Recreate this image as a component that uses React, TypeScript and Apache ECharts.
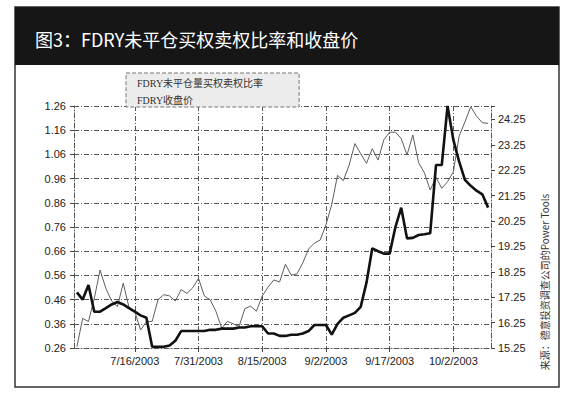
import React, { useEffect, useRef } from "react";
import * as echarts from "echarts";

const dates = [
  "7/1/2003", "7/2/2003", "7/3/2003", "7/7/2003", "7/8/2003", "7/9/2003", "7/10/2003", "7/11/2003", "7/14/2003", "7/15/2003",
  "7/16/2003", "7/17/2003", "7/18/2003", "7/21/2003", "7/22/2003", "7/23/2003", "7/24/2003", "7/25/2003", "7/28/2003", "7/29/2003", "7/30/2003",
  "7/31/2003", "8/1/2003", "8/4/2003", "8/5/2003", "8/6/2003", "8/7/2003", "8/8/2003", "8/11/2003", "8/12/2003", "8/13/2003", "8/14/2003",
  "8/15/2003", "8/18/2003", "8/19/2003", "8/20/2003", "8/21/2003", "8/22/2003", "8/25/2003", "8/26/2003", "8/27/2003", "8/28/2003", "8/29/2003",
  "9/2/2003", "9/3/2003", "9/4/2003", "9/5/2003", "9/8/2003", "9/9/2003", "9/10/2003", "9/11/2003", "9/12/2003", "9/15/2003", "9/16/2003",
  "9/17/2003", "9/18/2003", "9/19/2003", "9/22/2003", "9/23/2003", "9/24/2003", "9/25/2003", "9/26/2003", "9/29/2003", "9/30/2003", "10/1/2003",
  "10/2/2003", "10/3/2003", "10/6/2003", "10/7/2003", "10/8/2003", "10/9/2003", "10/10/2003",
];

const putCallRatio = [
  0.49, 0.46, 0.52, 0.41, 0.41, 0.425, 0.44, 0.45, 0.44, 0.425,
  0.41, 0.395, 0.385, 0.265, 0.265, 0.265, 0.27, 0.29, 0.33, 0.33, 0.33,
  0.33, 0.33, 0.335, 0.335, 0.34, 0.34, 0.34, 0.345, 0.345, 0.35, 0.35,
  0.35, 0.32, 0.32, 0.31, 0.31, 0.315, 0.315, 0.32, 0.33, 0.355, 0.355,
  0.355, 0.315, 0.36, 0.385, 0.395, 0.405, 0.43, 0.53, 0.672, 0.66, 0.65,
  0.65, 0.76, 0.84, 0.713, 0.715, 0.727, 0.73, 0.734, 1.016, 1.016, 1.26,
  1.12, 1.03, 0.955, 0.93, 0.91, 0.895, 0.84,
];

const closePrice = [
  15.3, 16.42, 16.29, 17.2, 18.32, 17.6, 17.1, 16.88, 17.8, 16.85,
  16.68, 15.96, 16.29, 16.3, 17.15, 17.35, 17.3, 17.1, 17.55, 17.4, 17.62,
  17.99, 17.3, 17.15, 16.7, 16.03, 16.3, 16.2, 16.1, 16.8, 16.9, 16.7,
  17.3, 17.65, 17.93, 17.85, 18.55, 18.12, 18.17, 18.6, 19.15, 19.38, 19.5,
  20.1, 20.9, 22.05, 21.84, 22.45, 23.3, 22.9, 22.52, 23.1, 22.65, 23.45,
  23.75, 23.75, 23.5, 22.85, 23.64, 22.55, 22.15, 21.47, 21.97, 21.54, 21.8,
  22.19, 23.6, 24.15, 24.75, 24.38, 24.12, 24.1,
];

const leftTickLabels = ["0.26", "0.36", "0.46", "0.56", "0.66", "0.76", "0.86", "0.96", "1.06", "1.16", "1.26"];
const rightTickLabels = ["15.25", "16.25", "17.25", "18.25", "19.25", "20.25", "21.25", "22.25", "23.25", "24.25"];

const RATIO_BASE = 0.26;
const PRICE_BASE = 15.25;
const PRICE_SPAN = 9.53;

const seriesNames = ["FDRY未平仓量买权卖权比率", "FDRY收盘价"];
const titleText = "图3：FDRY未平仓买权卖权比率和收盘价";
const sourceText = "来源：德意投资调查公司的Power Tools";

export default function App() {
  const ref = useRef<HTMLDivElement>(null);

  useEffect(() => {
    document.body.style.margin = "0";
    const chart = echarts.init(ref.current!, null, { renderer: "svg" });
    const gridDash = [5, 2, 1, 2];
    const labelFont = {
      fontFamily: "'Liberation Sans', Arial, sans-serif",
      fontSize: 11,
      color: "#222",
    };
    const showDate = (i: number) => i >= 10 && (i - 10) % 11 === 0;

    chart.setOption({
      animation: false,
      backgroundColor: "#ffffff",
      grid: { left: 74, top: 106, right: 87, bottom: 54, containLabel: false },
      legend: {
        left: 126,
        top: 73,
        orient: "vertical",
        data: seriesNames,
        icon: "rect",
        itemWidth: 0,
        itemHeight: 0,
        itemGap: 5,
        padding: [4, 36, 1, 6],
        backgroundColor: "#ececec",
        borderColor: "#777",
        borderWidth: 1,
        borderType: "dashed",
        selectedMode: false,
        textStyle: {
          fontFamily: "'Liberation Serif', 'Noto Sans CJK SC', serif",
          fontSize: 10,
          color: "#333",
          lineHeight: 12,
        },
      },
      xAxis: {
        type: "category",
        data: dates,
        boundaryGap: true,
        axisLine: { show: true, lineStyle: { color: "#555", type: gridDash } },
        axisTick: {
          show: true,
          alignWithLabel: true,
          interval: showDate,
          length: 4,
          lineStyle: { color: "#444" },
        },
        axisLabel: { interval: showDate, margin: 7, ...labelFont },
        splitLine: {
          show: true,
          interval: showDate,
          alignWithLabel: true,
          lineStyle: { color: "#555", type: gridDash, width: 1 },
        },
      },
      yAxis: [
        {
          type: "value",
          position: "left",
          min: 0,
          max: 1,
          interval: 0.1,
          axisLine: { show: true, lineStyle: { color: "#555", type: gridDash } },
          axisTick: { show: true, length: 4, lineStyle: { color: "#444" } },
          axisLabel: {
            margin: 8,
            formatter: (v: number) => leftTickLabels[Math.round(v * 10)] ?? "",
            ...labelFont,
          },
          splitLine: { show: true, lineStyle: { color: "#555", type: gridDash, width: 1 } },
        },
        {
          type: "value",
          position: "right",
          min: 0,
          max: PRICE_SPAN,
          interval: 1,
          axisLine: { show: true, lineStyle: { color: "#555", type: gridDash } },
          axisTick: { show: true, length: 4, lineStyle: { color: "#444" } },
          axisLabel: {
            margin: 7,
            formatter: (v: number) =>
              Math.abs(v - Math.round(v)) < 1e-6 ? rightTickLabels[Math.round(v)] ?? "" : "",
            ...labelFont,
          },
          splitLine: { show: false },
        },
      ],
      series: [
        {
          name: seriesNames[0],
          type: "line",
          yAxisIndex: 0,
          data: putCallRatio.map((v) => +(v - RATIO_BASE).toFixed(4)),
          symbol: "none",
          lineStyle: { color: "#111", width: 2.6 },
          itemStyle: { color: "#111" },
          z: 3,
        },
        {
          name: seriesNames[1],
          type: "line",
          yAxisIndex: 1,
          data: closePrice.map((v) => +(v - PRICE_BASE).toFixed(4)),
          symbol: "none",
          lineStyle: { color: "#5e5e5e", width: 1 },
          itemStyle: { color: "#5e5e5e" },
          z: 2,
        },
      ],
      graphic: [
        {
          type: "rect",
          z: -10,
          shape: { x: 15, y: 7, width: 544, height: 380 },
          style: { fill: "none", stroke: "#333", lineWidth: 1.5 },
        },
        {
          type: "rect",
          z: -9,
          shape: { x: 15, y: 7, width: 544, height: 58 },
          style: { fill: "#161616" },
        },
        {
          type: "text",
          x: 35,
          y: 39,
          style: {
            text: titleText,
            fill: "#ffffff",
            font: "18px 'Noto Sans CJK SC', sans-serif",
            textVerticalAlign: "middle",
          },
        },
        {
          type: "text",
          x: 544,
          y: 282,
          rotation: Math.PI / 2,
          style: {
            text: sourceText,
            fill: "#333",
            font: "10px 'Noto Sans CJK SC', sans-serif",
            textAlign: "center",
            textVerticalAlign: "middle",
          },
        },
      ],
    });

    return () => chart.dispose();
  }, []);

  return <div ref={ref} style={{ width: 578, height: 402 }} />;
}
